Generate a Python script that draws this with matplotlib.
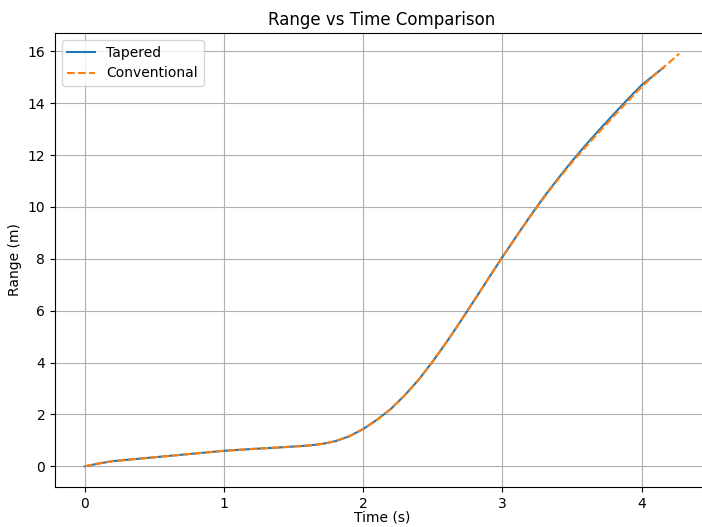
import matplotlib
matplotlib.use("Agg")
import matplotlib.pyplot as plt

# Tapered series
t_tapered = [0, 0.1, 0.2, 0.4, 0.6, 0.8, 1.0, 1.2, 1.4, 1.6, 1.7, 1.8, 1.9, 2.0,
             2.1, 2.2, 2.3, 2.4, 2.5, 2.6, 2.7, 2.8, 2.9, 3.0, 3.1, 3.2, 3.3, 3.4,
             3.5, 3.6, 3.7, 3.8, 3.9, 4.0, 4.1, 4.155]
r_tapered = [0, 0.11, 0.2, 0.3, 0.4, 0.5, 0.6, 0.67, 0.73, 0.8, 0.86, 0.97, 1.16, 1.44,
             1.8, 2.22, 2.75, 3.35, 4.05, 4.8, 5.6, 6.42, 7.25, 8.07, 8.87, 9.65, 10.4, 11.1,
             11.77, 12.4, 13.0, 13.58, 14.15, 14.7, 15.13, 15.36]

# Conventional series
t_conv = [0, 0.1, 0.2, 0.4, 0.6, 0.8, 1.0, 1.2, 1.4, 1.6, 1.7, 1.8, 1.9, 2.0,
          2.1, 2.2, 2.3, 2.4, 2.5, 2.6, 2.7, 2.8, 2.9, 3.0, 3.1, 3.2, 3.3, 3.4,
          3.5, 3.6, 3.7, 3.8, 3.9, 4.0, 4.1, 4.2, 4.27]
r_conv = [0, 0.11, 0.2, 0.3, 0.4, 0.5, 0.6, 0.67, 0.73, 0.8, 0.86, 0.97, 1.16, 1.44,
          1.8, 2.22, 2.75, 3.35, 4.05, 4.8, 5.6, 6.42, 7.25, 8.07, 8.86, 9.63, 10.37, 11.06,
          11.72, 12.33, 12.92, 13.5, 14.07, 14.63, 15.13, 15.58, 15.91]

fig = plt.figure(figsize=(7.02, 5.27), dpi=100)
ax = fig.add_axes([55/702, 40/527, 654/702, 454/527])
ax.plot(t_tapered, r_tapered, label="Tapered", color="#1f77b4")
ax.plot(t_conv, r_conv, "--", label="Conventional", color="#ff7f0e")
ax.set_title("Range vs Time Comparison")
ax.set_xlabel("Time (s)", labelpad=0)
ax.set_ylabel("Range (m)")
ax.grid(True)
ax.legend(loc="upper left")
fig.savefig("out.png", dpi=100)
